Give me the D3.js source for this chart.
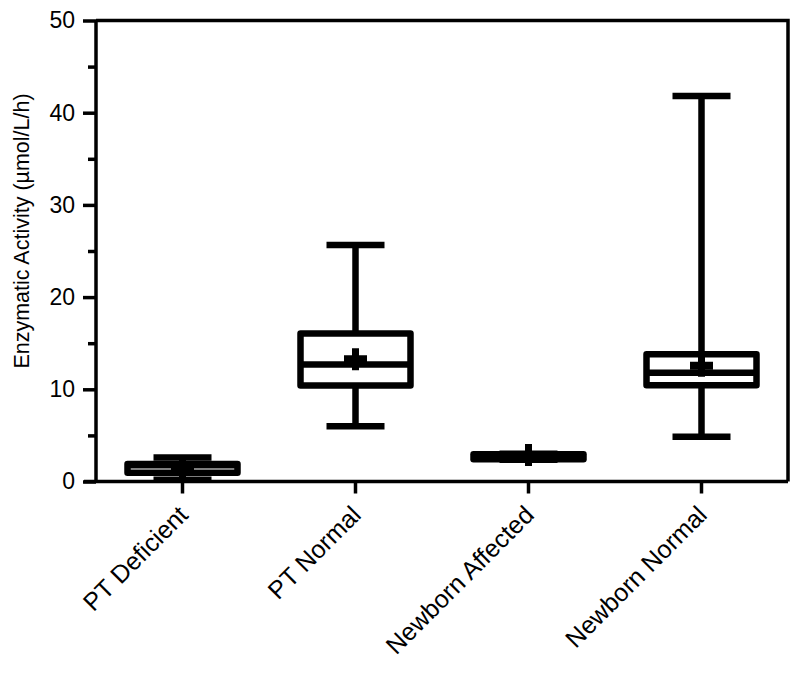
<!DOCTYPE html>
<html><head><meta charset="utf-8">
<script src="https://cdn.jsdelivr.net/npm/d3@7"></script>
<style>body{margin:0;background:#fff}svg{display:block}text{font-family:"Liberation Sans",Arial,sans-serif;fill:#000}</style>
</head><body>
<svg id="chart" width="800" height="677"></svg>
<script>
const categories = ["PT Deficient", "PT Normal", "Newborn Affected", "Newborn Normal"];
const mins    = [0.2, 6.0, 2.35, 4.85];
const q1s     = [0.95, 10.4, 2.4, 10.45];
const medians = [1.75, 12.7, 2.7, 11.8];
const q3s     = [1.9, 16.05, 2.95, 13.8];
const maxs    = [2.6, 25.65, 3.0, 41.8];
const means   = [1.35, 13.25, 2.87, 12.55];
const majorTicks = [0, 10, 20, 30, 40, 50];
const minorTicks = [5, 15, 25, 35, 45];
const yLabel = "Enzymatic Activity (\u00b5mol/L/h)";

const svg = d3.select("#chart");
const L = 96, R = 788, T = 20.5, B = 481.5;
const y = d3.scaleLinear().domain([0, 50]).range([B, T]);
const x = d3.scaleBand().domain(categories).range([L, R]).padding(0);
const cx = c => x(c) + x.bandwidth() / 2;

const data = categories.map((c, i) => ({c, min: mins[i], q1: q1s[i], med: medians[i], q3: q3s[i], max: maxs[i], mean: means[i]}));

const lw = 3.5;
// frame top/right
svg.append("path").attr("d", `M${L},${T}H${R}V${B}`).attr("fill", "none").attr("stroke", "#000").attr("stroke-width", lw);

// Y axis major
const gy = svg.append("g").attr("transform", `translate(${L},0)`)
  .call(d3.axisLeft(y).tickValues(majorTicks).tickSize(13).tickSizeOuter(0).tickPadding(8).tickFormat(d3.format("d")));
gy.select(".domain").attr("stroke-width", lw).attr("d", `M0,${T}V${B}`);
gy.selectAll(".tick line").attr("stroke-width", lw);
gy.selectAll(".tick text").attr("font-size", 23).attr("font-family", "Liberation Sans, Arial, sans-serif").attr("fill", "#000");
// Y axis minor
const gym = svg.append("g").attr("transform", `translate(${L},0)`)
  .call(d3.axisLeft(y).tickValues(minorTicks).tickSize(8).tickSizeOuter(0).tickFormat(""));
gym.select(".domain").remove();
gym.selectAll(".tick line").attr("stroke-width", lw);

// X axis
const gx = svg.append("g").attr("transform", `translate(0,${B})`)
  .call(d3.axisBottom(x).tickSize(12).tickSizeOuter(0).tickFormat(""));
gx.select(".domain").attr("stroke-width", lw).attr("d", `M${L - 12},0H${R}`);
gx.selectAll(".tick line").attr("stroke-width", lw);

// category labels
svg.append("g").selectAll("text").data(categories).join("text")
  .attr("transform", c => `translate(${cx(c) + 7},${B + 35}) rotate(-45)`)
  .attr("text-anchor", "end")
  .attr("font-size", 25)
  .text(c => c);

// y label
svg.append("text")
  .attr("transform", `translate(29,231) rotate(-90)`)
  .attr("text-anchor", "middle")
  .attr("font-size", 21.5)
  .text(yLabel);

// box plots
const boxW = 110, capW = 58, sw = 6.5;
const g = svg.append("g").attr("stroke", "#000").attr("stroke-width", sw);
const bx = g.selectAll("g.box").data(data).join("g").attr("class", "box");
bx.append("line").attr("x1", d => cx(d.c)).attr("x2", d => cx(d.c)).attr("y1", d => y(d.min)).attr("y2", d => y(d.max));
bx.append("line").attr("x1", d => cx(d.c) - capW / 2).attr("x2", d => cx(d.c) + capW / 2).attr("y1", d => y(d.max)).attr("y2", d => y(d.max));
bx.append("line").attr("x1", d => cx(d.c) - capW / 2).attr("x2", d => cx(d.c) + capW / 2).attr("y1", d => y(d.min)).attr("y2", d => y(d.min));
bx.append("rect").attr("x", d => cx(d.c) - boxW / 2).attr("width", boxW)
  .attr("y", d => y(d.q3)).attr("height", d => y(d.q1) - y(d.q3))
  .attr("fill", "#fff").attr("stroke-linejoin", "round");
bx.append("line").attr("x1", d => cx(d.c) - boxW / 2).attr("x2", d => cx(d.c) + boxW / 2).attr("y1", d => y(d.med)).attr("y2", d => y(d.med));
// mean plus
bx.append("path").attr("stroke", "none").attr("fill", "#000")
  .attr("d", d => {
    const px = cx(d.c), py = y(d.mean);
    return `M${px - 3.5},${py - 11}h7v22h-7Z M${px - 11.5},${py - 4}h23v8h-23Z`;
  });
</script>
</body></html>
